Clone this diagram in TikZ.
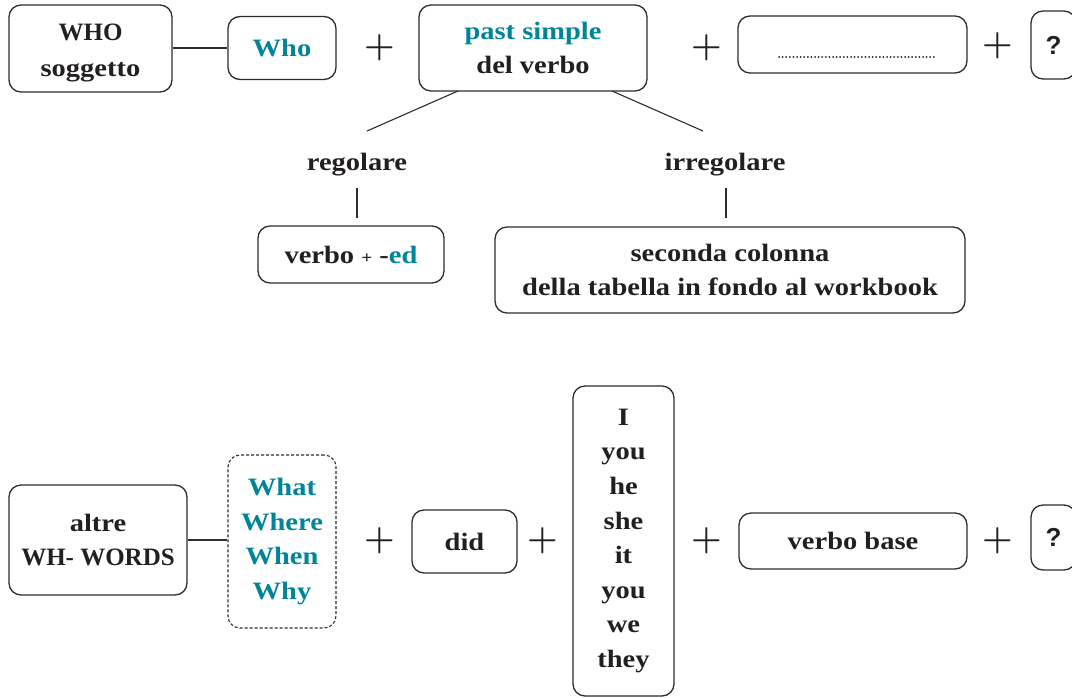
\documentclass[tikz,border=0pt]{standalone}
\usepackage{fontspec}
\setmainfont{Liberation Serif}[FakeStretch=1.14]
\newfontfamily\capfont{Liberation Serif}
\newfontfamily\qfont{Liberation Sans}
\newfontfamily\plusfont{Latin Modern Roman}
\definecolor{teal1}{RGB}{0,132,152}
\definecolor{ink}{RGB}{35,31,32}
\definecolor{edge}{RGB}{45,45,45}
\begin{document}
\begin{tikzpicture}[x=1pt,y=-1pt,
  box/.style={draw=edge,line width=1.3pt,rounded corners=12pt,align=center,inner sep=0pt,
    font=\fontsize{25}{34.6}\selectfont\bfseries,text=ink},
  dbox/.style={box,dashed,dash pattern=on 3pt off 2pt,line width=1.1pt},
  lbl/.style={font=\fontsize{25}{34.6}\selectfont\bfseries,text=ink,inner sep=0pt},
  plus/.style={font=\fontsize{35}{35}\plusfont\bfseries,text=ink,inner sep=0pt},
  qbox/.style={box,font=\fontsize{26}{30}\selectfont\qfont\bfseries},
  conn/.style={draw=edge,line width=1.1pt},
  tl/.style={text=teal1}]
\useasboundingbox (0,0) rectangle (1072,697);
% top row
\node[box,minimum width=163pt,minimum height=87pt] (whos) at (90.5,48.5) {\rule{0pt}{26pt}{\capfont WHO}\\[1pt]soggetto};
\node[box,minimum width=108pt,minimum height=63pt] (who) at (282,48) {\textcolor{teal1}{Who}};
\node[plus] (p1) at (380,48) {+};
\node[box,minimum width=228pt,minimum height=86pt] (past) at (533,48) {\textcolor{teal1}{past simple}\\del verbo};
\node[plus] (p2) at (707,48) {+};
\node[box,minimum width=229pt,minimum height=57pt] (blank) at (852.5,44.5) {};
\node[plus] (p3) at (998,46) {+};
\node[qbox,minimum width=45pt,minimum height=68pt] (q1) at (1053.5,45) {?};
\coordinate (d1) at (779,57);
\coordinate (d2) at (935,57);
\draw[ink,line width=2pt,line cap=round,dash pattern=on 0pt off 3.6pt] (d1) -- (d2);
\draw[conn] (whos.east |- who.west) -- (who.west);
% branches
\node[lbl] (reg) at (357,165) {regolare};
\node[lbl] (irr) at (725,165) {irregolare};
\coordinate (pl) at (458,91);
\coordinate (pr) at (612,91);
\coordinate (rl) at (367,131);
\coordinate (rr) at (703,131);
\draw[conn] (pl) -- (rl);
\draw[conn] (pr) -- (rr);
\node[box,minimum width=186pt,minimum height=57pt] (ed) at (351,254.5) {verbo {\fontsize{17}{17}\selectfont+} -\textcolor{teal1}{ed}};
\node[box,minimum width=470pt,minimum height=86pt] (sec) at (730,270) {seconda colonna\\della tabella in fondo al workbook};
\coordinate (v1a) at (357,188);
\coordinate (v1b) at (357,218);
\coordinate (v2a) at (726,188);
\coordinate (v2b) at (726,218);
\draw[conn] (v1a) -- (v1b);
\draw[conn] (v2a) -- (v2b);
% bottom row
\node[box,minimum width=178pt,minimum height=110pt] (altre) at (98,540) {altre\\{\capfont WH- WORDS}};
\node[dbox,minimum width=108pt,minimum height=173pt] (wh) at (282,541.5) {\textcolor{teal1}{What}\\\textcolor{teal1}{Where}\\\textcolor{teal1}{When}\\\textcolor{teal1}{Why}};
\draw[conn] (altre.east) -- (altre.east -| wh.west);
\node[plus] (p4) at (380,541) {+};
\node[box,minimum width=105pt,minimum height=63pt] (did) at (464.5,541.5) {did};
\node[plus] (p5) at (543,541) {+};
\node[box,minimum width=101pt,minimum height=310pt] (pron) at (623.5,541) {I\\you\\he\\she\\it\\you\\we\\they};
\node[plus] (p6) at (707,541) {+};
\node[box,minimum width=228pt,minimum height=56pt] (vb) at (853,541) {verbo base};
\node[plus] (p7) at (998,541) {+};
\node[qbox,minimum width=45pt,minimum height=65pt] (q2) at (1053.5,537.5) {?};
\end{tikzpicture}
\end{document}
